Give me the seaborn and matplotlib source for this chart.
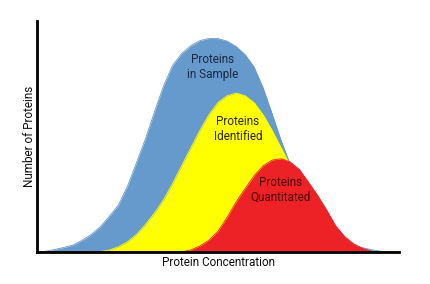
import matplotlib
matplotlib.use("Agg")
import matplotlib.pyplot as plt
import seaborn as sns
import pandas as pd

# Protein concentration (arbitrary units)
concentration = [0, 2.5, 5, 7.5, 10, 12.5, 15, 17.5, 20, 22.5, 25, 27.5, 30, 32.5, 35,
                 37.5, 40, 42.5, 45, 47.5, 50, 52.5, 55, 57.5, 60, 62.5, 65, 67.5, 70,
                 72.5, 75, 77.5, 80, 82.5, 85, 87.5, 90, 92.5, 95, 97.5, 100]

in_sample = [0, 0.8, 2.6, 4.6, 7, 11.8, 17.6, 25.3, 35.8, 47, 65.8, 89.5, 113.7, 140.7, 166.5,
             187, 198.7, 206.4, 211.5, 213.6, 213.5, 211, 205.6, 197.4, 184.9, 163.8, 137.6, 110.9, 87,
             65.8, 45.8, 34.5, 24.4, 16.7, 11.3, 6.7, 4.3, 2.2, 0.7, 0, 0]

identified = [0, 0, 0, 0, 0, 0, 0, 0.4, 2, 5.2, 10.2, 17.6, 27.6, 39.2, 52.5,
              68.8, 86.6, 104.2, 121.8, 137.4, 149.6, 156.3, 159, 156.3, 149.4, 137.1, 121.4, 103.8, 86.2,
              68.4, 52.3, 39, 27.3, 17.4, 10, 5.1, 2, 0.4, 0, 0, 0]

quantitated = [0, 0, 0, 0, 0, 0, 0, 0, 0, 0, 0, 0, 0, 0, 0,
               0, 0, 2.1, 6, 11.9, 20.9, 34.6, 50.1, 63.6, 76.4, 86.4, 92, 93.3, 90,
               82.5, 69.9, 56.7, 42.1, 26.2, 15.4, 8.1, 3.6, 0.6, 0, 0, 0]

series_names = ["Proteins\nin Sample", "Proteins\nIdentified", "Proteins\nQuantitated"]
series_values = [in_sample, identified, quantitated]
colors = ["#6699CC", "#FFFF00", "#ED2226"]
text_colors = ["#1B2A44", "#2E2A10", "#4A0A0A"]
label_pos = [(48.6, 185), (55.5, 123), (67.2, 62)]

sns.set_style("white")
plt.rcParams["font.family"] = ["Roboto", "DejaVu Sans"]

fig = plt.figure(figsize=(4.3, 2.84), dpi=100)
ax = fig.add_axes([0.086, 0.1127, 0.842, 0.813])

rows = []
for name, vals in zip(series_names, series_values):
    for c, v in zip(concentration, vals):
        rows.append({"concentration": c, "count": v, "series": name})
df = pd.DataFrame(rows)

for name, col, tcol, (lx, ly) in zip(series_names, colors, text_colors, label_pos):
    sub = df[df["series"] == name]
    ax.fill_between(sub["concentration"], 0, sub["count"], color=col, linewidth=0, zorder=2)
    sns.lineplot(data=sub, x="concentration", y="count", color=col, linewidth=0.6,
                 ax=ax, zorder=2, legend=False)
    ax.text(lx, ly, name, ha="center", va="center", fontsize=8.5, color=tcol,
            linespacing=1.15, zorder=3)

ax.set_xlim(0, 100)
ax.set_ylim(0, 231)
ax.set_xticks([])
ax.set_yticks([])
ax.set_xlabel("Protein Concentration", fontsize=8.5, color="#111111", labelpad=3)
ax.set_ylabel("Number of Proteins", fontsize=8.5, color="#111111", labelpad=1)
for side in ["top", "right"]:
    ax.spines[side].set_visible(False)
for side in ["left", "bottom"]:
    ax.spines[side].set_color("black")
    ax.spines[side].set_linewidth(2)
    ax.spines[side].set_zorder(5)

fig.savefig("out.png", dpi=100, facecolor="white")
